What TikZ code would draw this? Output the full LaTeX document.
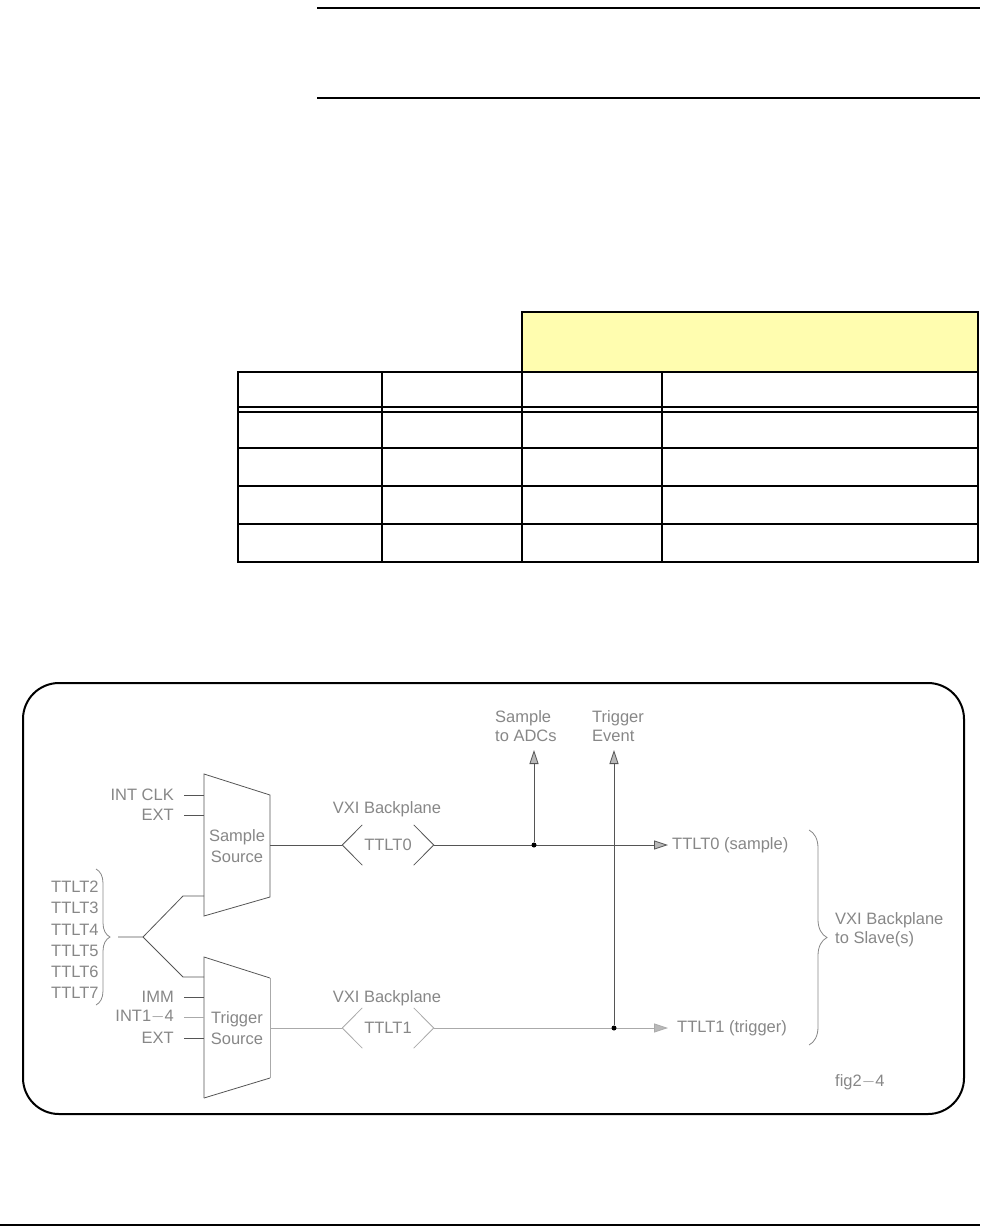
\documentclass[tikz,border=0pt]{standalone}
\usepackage{fontspec}
\setmainfont{Liberation Sans}
\usetikzlibrary{arrows.meta,decorations.pathreplacing,calc}
\definecolor{tabyellow}{RGB}{255,253,175}
\definecolor{lblgray}{RGB}{135,135,135}
\definecolor{wiregray}{RGB}{85,85,85}
\definecolor{wirelight}{RGB}{170,170,170}
\begin{document}
\begin{tikzpicture}[x=1pt,y=-1pt,
  lbl/.style={text=lblgray, font=\fontsize{16.5}{19}\selectfont, inner sep=0pt},
  srclbl/.style={lbl, align=center, font=\fontsize{16.5}{20.5}\selectfont},
  inlbl/.style={lbl, anchor=east, inner xsep=10pt},
  wire/.style={draw=wiregray, line width=0.8pt},
  wirelt/.style={draw=wirelight, line width=0.8pt},
  tabline/.style={draw=black, line width=1.2pt},
  arrh/.style={-{Triangle[length=14pt,width=9pt,fill=gray!55]}},
  jdot/.style={circle, fill=black, inner sep=0pt, minimum size=5pt},
  chev/.style={inner sep=0pt, minimum width=91pt, minimum height=40pt, text=lblgray, font=\fontsize{16.5}{19}\selectfont}
]
\useasboundingbox (0,0) rectangle (980,1226);

% header rules
\draw[line width=1.3pt] (317,8) -- (980,8);
\draw[line width=1.3pt] (317,98) -- (980,98);
\draw[line width=2pt] (0,1225) -- (980,1225);

% table
\draw[tabline, fill=tabyellow] (522,312) rectangle (978,372);
\draw[tabline] (238,372) rectangle (978,562);
\foreach \yy in {407,412,448,486,524} \draw[tabline] (238,\yy) -- (978,\yy);
\foreach \xx in {382,522,662} \draw[tabline] (\xx,372) -- (\xx,562);

% diagram frame
\draw[line width=2pt, rounded corners=36pt] (23,683) rectangle (964,1114);

% sample source
\coordinate (ss1) at (204,774);
\coordinate (ss2) at (270,795);
\coordinate (ss3) at (270,897);
\coordinate (ss4) at (204,916);
\draw[wire] (ss1) -- (ss2) -- (ss3) -- (ss4) -- cycle;
\node[srclbl] (ssT) at (237,846) {Sample\\Source};
\coordinate (ssout) at (270,845);
\coordinate (ssin1) at (204,795);
\coordinate (ssin2) at (204,815);
\coordinate (ssin3) at (204,896);

% trigger source
\coordinate (ts1) at (204,957);
\coordinate (ts2) at (270,978);
\coordinate (ts3) at (270,1078);
\coordinate (ts4) at (204,1098);
\draw[wire] (ts4) -- (ts1) -- (ts2);
\draw[wirelt] (ts2) -- (ts3);
\draw[wire] (ts3) -- (ts4);
\node[srclbl] (tsT) at (237,1028) {Trigger\\Source};
\coordinate (tsout) at (270,1028);
\coordinate (tsin1) at (204,977);
\coordinate (tsin2) at (204,997);
\coordinate (tsin3) at (204,1017);
\coordinate (tsin4) at (204,1038);

% inputs
\node[inlbl] (iclk) at (184,795) {INT CLK};
\node[inlbl] (iext) at (184,815) {EXT};
\draw[wire] (iclk.east) -- (ssin1);
\draw[wire] (iext.east) -- (ssin2);
\node[inlbl] (imm) at (184,997) {IMM};
\node[inlbl] (iint) at (184,1017) {INT1$-$4};
\node[inlbl] (iext2) at (184,1038) {EXT};
\draw[wire] (imm.east) -- (tsin2);
\draw[wirelt] (iint.east) -- (tsin3);
\draw[wire] (iext2.east) -- (tsin4);

% TTLT2..7 group
\foreach \n [count=\i from 0] in {2,...,7}
  \node[lbl, anchor=west] (tt\n) at (51,{887+21.2*\i}) {TTLT\n};
\draw[draw=lblgray, line width=0.8pt, decorate, decoration={brace, amplitude=14pt}] (96,869) -- (96,1005);
\coordinate (f0) at (118,937);
\coordinate (f1) at (143,937);
\coordinate (f2) at (183,896);
\coordinate (f3) at (183,977);
\draw[wire] (f0) -- (f1) -- (f2) -- (ssin3);
\draw[wire] (f1) -- (f3) -- (tsin1);

% backplane chevrons
\node[lbl] (vxi0) at (387,809) {VXI Backplane};
\node[chev] (t0) at (388,845) {TTLT0};
\draw[wire] ([xshift=20pt]t0.north west) -- (t0.west) -- ([xshift=20pt]t0.south west);
\draw[wire] ([xshift=-20pt]t0.north east) -- (t0.east) -- ([xshift=-20pt]t0.south east);
\node[lbl] (vxi1) at (387,998) {VXI Backplane};
\node[chev] (t1) at (388,1028) {TTLT1};
\draw[wirelt] ([xshift=20pt]t1.north west) -- (t1.west) -- ([xshift=-0pt]t1.west);
\draw[wirelt] (t1.west) -- ([xshift=20pt]t1.south west);
\draw[wirelt] ([xshift=-20pt]t1.north east) -- (t1.east) -- ([xshift=-20pt]t1.south east);

\draw[wire] (ssout) -- (t0.west);
\draw[wirelt] (tsout) -- (t1.west);

% outputs
\node[lbl, anchor=west, inner xsep=4pt] (o0) at (668,845) {TTLT0 (sample)};
\node[lbl, anchor=west, inner xsep=9pt] (o1) at (668,1028) {TTLT1 (trigger)};
\draw[wire, arrh] (t0.east) -- (o0.west);
\draw[wirelt, arrh] (t1.east) -- (o1.west);

% junctions and upward taps
\node[jdot] (j0) at (534,845) {};
\node[jdot] (j1) at (614,1028) {};
\coordinate (adctip) at (534,750);
\coordinate (evtip) at (614,750);
\draw[wire, arrh] (j0) -- (adctip);
\draw[wire, arrh] (j1) -- (evtip);
\node[lbl, align=left, anchor=west] (adc) at (495,726) {Sample\\to ADCs};
\node[lbl, align=left, anchor=west] (ev) at (592,726) {Trigger\\Event};

% right brace
\draw[draw=lblgray, line width=0.8pt, decorate, decoration={brace, amplitude=18pt}] (809,830) -- (809,1045);
\node[lbl, align=left, anchor=west] (slv) at (835,930) {VXI Backplane\\to Slave(s)};
\node[lbl, anchor=west] (fig) at (835,1082) {fig2$-$4};
\end{tikzpicture}
\end{document}
